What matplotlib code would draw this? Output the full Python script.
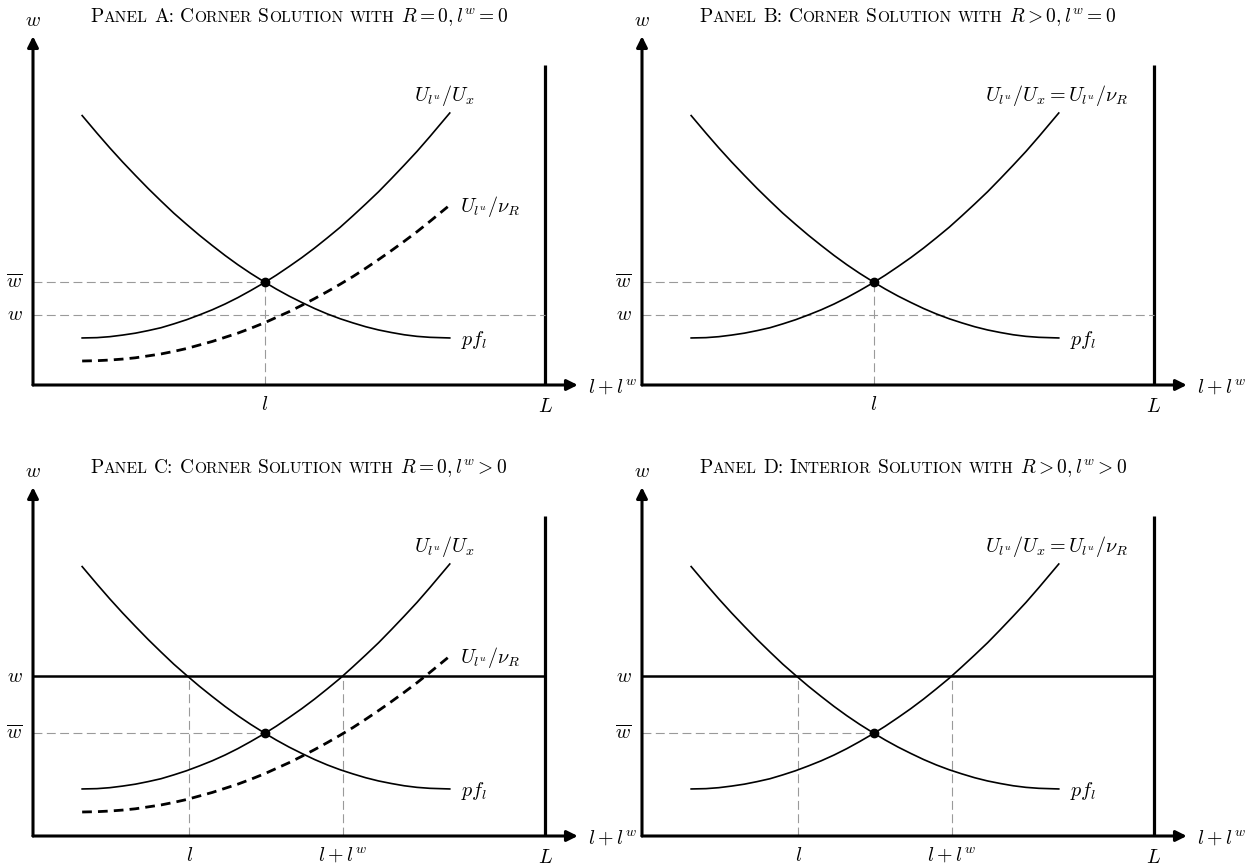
import re
import matplotlib
matplotlib.use("Agg")
import matplotlib.pyplot as plt
from matplotlib.transforms import offset_copy

plt.rcParams['mathtext.fontset'] = 'cm'

# curve values (x in units of L/10, y in panel units)
inc_x = [0.96, 1.25, 1.5, 1.75, 2.0, 2.25, 2.5, 2.75, 3.0, 3.25, 3.5, 3.75, 4.0, 4.25, 4.53,
         4.75, 5.0, 5.25, 5.5, 5.75, 6.0, 6.25, 6.5, 6.75, 7.0, 7.25, 7.5, 7.75, 8.14]
inc_y = [1.47, 1.48, 1.51, 1.56, 1.62, 1.70, 1.79, 1.91, 2.04, 2.19, 2.35, 2.53, 2.73, 2.95, 3.21,
         3.43, 3.70, 3.98, 4.28, 4.60, 4.93, 5.29, 5.66, 6.04, 6.45, 6.87, 7.30, 7.76, 8.50]
dec_x = [0.96, 1.25, 1.5, 1.75, 2.0, 2.25, 2.5, 2.75, 3.0, 3.25, 3.5, 3.75, 4.0, 4.25, 4.53,
         4.75, 5.0, 5.25, 5.5, 5.75, 6.0, 6.25, 6.5, 6.75, 7.0, 7.25, 7.5, 7.75, 8.14]
dec_y = [8.42, 7.87, 7.41, 6.97, 6.55, 6.14, 5.75, 5.37, 5.02, 4.68, 4.36, 4.05, 3.76, 3.49, 3.21,
         3.00, 2.78, 2.58, 2.39, 2.22, 2.07, 1.94, 1.82, 1.72, 1.64, 1.57, 1.52, 1.49, 1.47]
dash_x = [0.96, 1.25, 1.5, 1.75, 2.0, 2.25, 2.5, 2.75, 3.0, 3.25, 3.5, 3.75, 4.0, 4.25, 4.53,
          4.75, 5.0, 5.25, 5.5, 5.75, 6.0, 6.25, 6.5, 6.75, 7.0, 7.25, 7.5, 7.75, 8.1]
dash_y = [0.75, 0.76, 0.78, 0.81, 0.85, 0.91, 0.97, 1.05, 1.14, 1.25, 1.36, 1.49, 1.62, 1.77, 1.95,
          2.11, 2.29, 2.49, 2.70, 2.92, 3.15, 3.39, 3.65, 3.92, 4.20, 4.49, 4.79, 5.11, 5.57]

L_x = 10.0
L_top = 10.0
x_tip = 10.64
y_tip = 10.9
eq_x = 4.53
w_bar = 3.21
w_low = 2.19      # panels A, B
w_high = 5.0      # panels C, D
l_cd = 3.05
l_lw_cd = 6.05

titles = [("Panel A: Corner Solution with", r"$R=0, l^w=0$"),
          ("Panel B: Corner Solution with", r"$R>0, l^w=0$"),
          ("Panel C: Corner Solution with", r"$R=0, l^w>0$"),
          ("Panel D: Interior Solution with", r"$R>0, l^w>0$")]
has_dash = [True, False, True, False]
w_case = ["low", "low", "high", "high"]
origins = [(33, 385), (642, 385), (33, 836), (642, 836)]

W, H = 1253, 867
sx, sy = 51.2, 32.0
fig = plt.figure(figsize=(W / 100, H / 100), dpi=100)
rend = fig.canvas.get_renderer()
grey = dict(color='#9a9a9a', lw=0.8, ls=(0, (8, 4)))
fs = 14.5


def sc_title(ax, x, y, words, math, big=14, small=11.2):
    off = 0.0
    def put(s, size, fam='cmr10'):
        nonlocal off
        tr = offset_copy(ax.transData, fig=fig, x=off, y=0, units='dots')
        t = ax.text(x, y, s, transform=tr, fontsize=size, family=fam,
                    va='baseline', ha='left')
        off += t.get_window_extent(rend).width
    for wd in words.split(' '):
        for run in re.findall(r'[a-z]+|[^a-z]+', wd):
            if run.islower():
                put(run.upper(), small)
            else:
                put(run, big)
        off += big * 0.33 * 100 / 72
    put(math, big)


for i, (ox, oy) in enumerate(origins):
    x0, x1, y0, y1 = -0.6, 11.3, -0.95, 11.6
    left, right = ox + x0 * sx, ox + x1 * sx
    bot, top = oy - y0 * sy, oy - y1 * sy
    ax = fig.add_axes([left / W, 1 - bot / H, (right - left) / W, (bot - top) / H])
    ax.set_xlim(x0, x1)
    ax.set_ylim(y0, y1)
    ax.axis('off')

    # axes with arrows
    ax.annotate('', xy=(x_tip, 0), xytext=(0, 0),
                arrowprops=dict(arrowstyle='-|>', lw=2.2, color='k',
                                mutation_scale=16, shrinkA=0, shrinkB=0))
    ax.annotate('', xy=(0, y_tip), xytext=(0, 0),
                arrowprops=dict(arrowstyle='-|>', lw=2.2, color='k',
                                mutation_scale=16, shrinkA=0, shrinkB=0))
    ax.plot([L_x, L_x], [0, L_top], color='k', lw=2.3, solid_capstyle='butt')

    if w_case[i] == "low":
        ax.plot([0, eq_x], [w_bar, w_bar], **grey)
        ax.plot([eq_x, eq_x], [0, w_bar], **grey)
        ax.plot([0, L_x], [w_low, w_low], **grey)
        ax.text(-0.2, w_low, r"$w$", fontsize=fs, ha='right', va='center')
        ax.text(eq_x, -0.6, r"$l$", fontsize=fs, ha='center', va='center')
    else:
        ax.plot([0, L_x], [w_high, w_high], color='k', lw=1.8)
        ax.plot([0, eq_x], [w_bar, w_bar], **grey)
        ax.plot([l_cd, l_cd], [0, w_high], **grey)
        ax.plot([l_lw_cd, l_lw_cd], [0, w_high], **grey)
        ax.text(-0.2, w_high, r"$w$", fontsize=fs, ha='right', va='center')
        ax.text(l_cd, -0.6, r"$l$", fontsize=fs, ha='center', va='center')
        ax.text(l_lw_cd, -0.6, r"$l+l^w$", fontsize=fs, ha='center', va='center')
    ax.text(-0.2, w_bar, r"$\overline{w}$", fontsize=fs, ha='right', va='center')

    ax.plot(inc_x, inc_y, color='k', lw=1.2)
    ax.plot(dec_x, dec_y, color='k', lw=1.2)
    if has_dash[i]:
        ax.plot(dash_x, dash_y, color='k', lw=2.0, ls=(0, (3.5, 2.2)))
        ax.text(8.34, 5.57, r"$U_{l^u}/\nu_R$", fontsize=fs, ha='left', va='center')
        ax.text(8.03, 9.06, r"$U_{l^u}/U_x$", fontsize=fs, ha='center', va='center')
    else:
        ax.text(8.1, 9.06, r"$U_{l^u}/U_x = U_{l^u}/\nu_R$", fontsize=fs,
                ha='center', va='center')
    ax.plot([eq_x], [w_bar], 'o', color='k', ms=6)
    ax.text(8.36, 1.42, r"$pf_l$", fontsize=fs, ha='left', va='center')

    ax.text(L_x, -0.68, r"$L$", fontsize=fs, ha='center', va='center')
    ax.text(10.84, -0.05, r"$l+l^w$", fontsize=fs, ha='left', va='center')
    ax.text(0, 11.4, r"$w$", fontsize=fs, ha='center', va='center')
    sc_title(ax, 1.12, 11.35, titles[i][0], titles[i][1])

fig.savefig('out.png', dpi=100)
